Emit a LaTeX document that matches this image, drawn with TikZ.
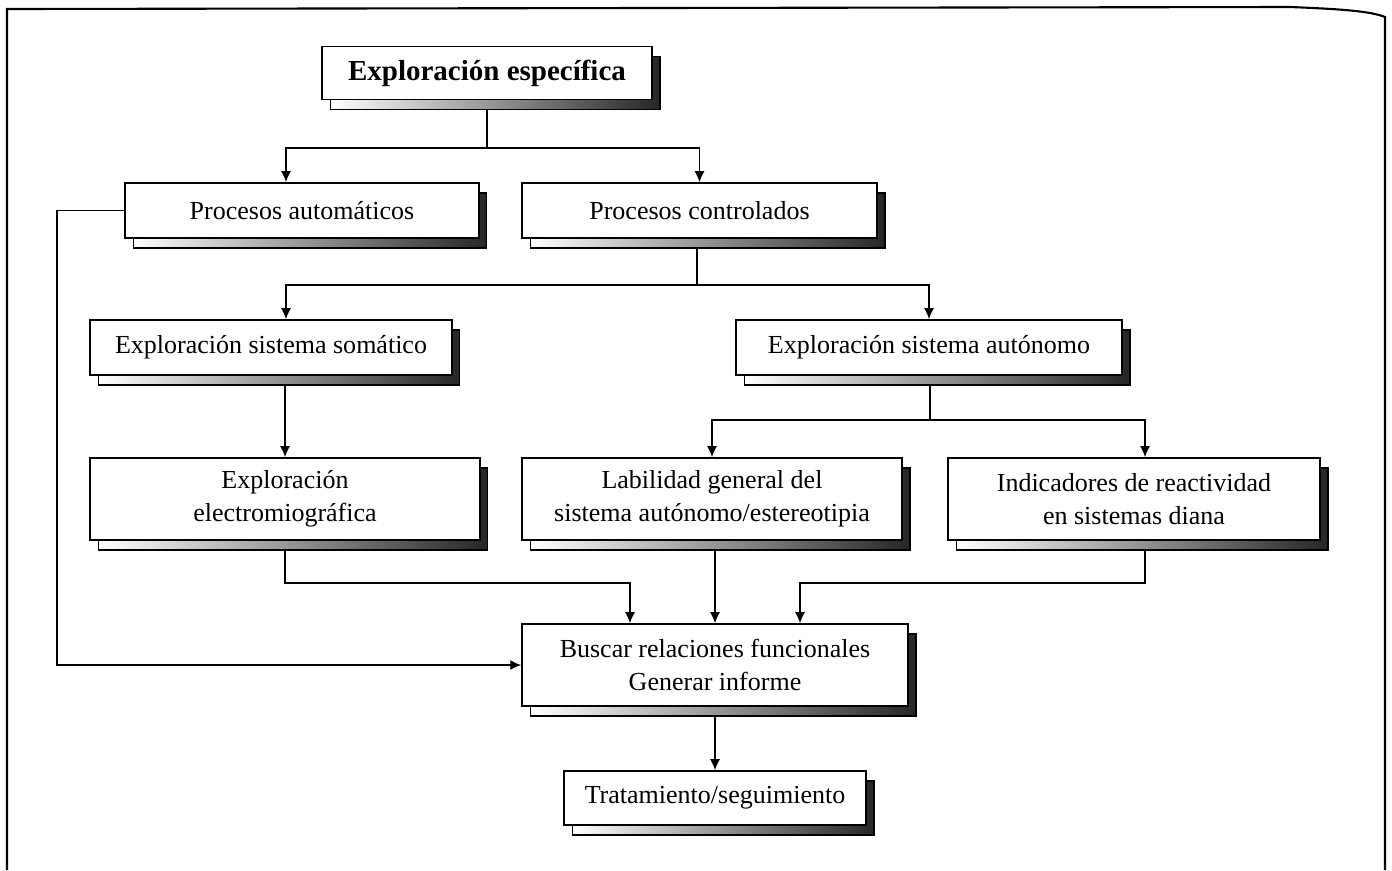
\documentclass[tikz,border=0pt]{standalone}
\usepackage{fontspec}
\setmainfont{Liberation Serif}
\usetikzlibrary{arrows.meta,shadows,calc}

\begin{document}
\begin{tikzpicture}[x=0.02cm, y=-0.02cm,
  box/.style={rectangle, draw, fill=white, line width=0.9pt, align=center,
    minimum height=1.1cm, inner sep=2pt, font=\fontsize{14.8}{19}\selectfont,
    general shadow={shadow xshift=0.16cm, shadow yshift=-0.2cm, draw,
      line width=0.6pt, left color=white, right color=black!85}},
  tall/.style={minimum height=1.64cm},
  line/.style={line width=0.9pt},
  flow/.style={line, -{Latex[length=2.2mm,width=2mm]}}]
\useasboundingbox (0,0) rectangle (1392,870);

% frame
\draw[line width=1.2pt] (7,870) -- (7,9) -- (1290,7) .. controls (1340,9) and (1370,11) .. (1385,17) -- (1385,870);

\node[box, minimum width=6.6cm, minimum height=1.06cm, font=\fontsize{16.5}{19}\selectfont\bfseries] (top) at (487,73) {Exploración específica};
\node[box, minimum width=7.08cm] (auto) at (302,210.5) {Procesos automáticos};
\node[box, minimum width=7.1cm] (contr) at (699.5,210.5) {Procesos controlados};
\node[box, minimum width=7.24cm] (soma) at (271,347.5) {Exploración sistema somático};
\node[box, minimum width=7.72cm] (auton) at (929,347.5) {Exploración sistema autónomo};
\node[box, tall, minimum width=7.8cm] (emg) at (285,499) {Exploración\\electromiográfica};
\node[box, tall, minimum width=7.6cm] (labil) at (712,499) {Labilidad general del\\sistema autónomo/estereotipia};
\node[box, tall, minimum width=7.44cm] (indic) at (1134,499) {Indicadores de reactividad\\en sistemas diana};
\node[box, tall, minimum width=7.72cm] (buscar) at (715,665) {Buscar relaciones funcionales\\Generar informe};
\node[box, minimum width=6.04cm, minimum height=1.08cm] (trat) at (715,798) {Tratamiento/seguimiento};

% first split
\coordinate (s1) at (487,148);
\draw[line] ([yshift=-0.2cm]top.south) -- (s1);
\draw[flow] (s1) -| ($(auto.north)+(-16,0)$);
\draw[flow] (s1) -| (contr.north);

% automatic processes go straight to the report
\draw[flow] (auto.west) -- (57,210.5) |- (buscar.west);

% second split
\coordinate (s2) at (697,285);
\draw[line] ([yshift=-0.2cm]s2 |- contr.south) -- (s2);
\draw[flow] (s2) -| ($(soma.north)+(15,0)$);
\draw[flow] (s2) -| (auton.north);

\draw[flow] ([yshift=-0.2cm]emg.north |- soma.south) -- (emg.north);

% third split
\coordinate (s3) at (930,420);
\draw[line] ([yshift=-0.2cm]s3 |- auton.south) -- (s3);
\draw[flow] (s3) -| (labil.north);
\draw[flow] (s3) -| ($(indic.north)+(11,0)$);

% into the report
\draw[flow] ([yshift=-0.2cm]emg.south) |- ($(buscar.north)+(-85,-40)$) -- ($(buscar.north)+(-85,0)$);
\draw[flow] ([yshift=-0.2cm]buscar.north |- labil.south) -- (buscar.north);
\draw[flow] ([yshift=-0.2cm]$(indic.south)+(11,0)$) |- ($(buscar.north)+(85,-40)$) -- ($(buscar.north)+(85,0)$);

\draw[flow] ([yshift=-0.2cm]buscar.south) -- (trat.north);
\end{tikzpicture}
\end{document}
